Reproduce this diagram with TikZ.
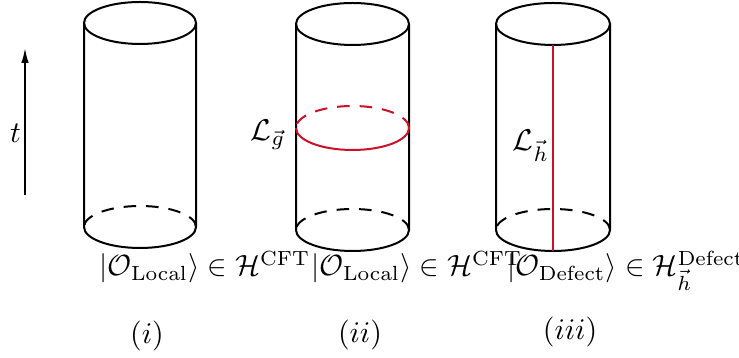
\documentclass[tikz,border=0pt]{standalone}
\usetikzlibrary{arrows.meta,calc}
\definecolor{defred}{RGB}{204,16,40}
\begin{document}
\begin{tikzpicture}[x=0.4pt,y=0.4pt,
  cyl/.style={line width=0.8pt},
  backdash/.style={cyl,dash pattern=on 5pt off 4pt},
  lbl/.style={anchor=base,inner sep=0pt,scale=1.2},
  sublbl/.style={lbl,scale=0.975}]
\useasboundingbox (0,0) rectangle (739,358);
% time arrow
\coordinate (tb) at (25,163);
\coordinate (tt) at (25,310);
\draw[line width=0.7pt,-{Latex[length=6pt,width=3pt]}] (tb) -- (tt);
\node[lbl] (t) at (15.5,215) {$t$};
% cylinder (i)
\coordinate (c1t) at (140,335);
\coordinate (c1b) at (140,131);
\draw[cyl] (c1t) ellipse [x radius=56, y radius=21];
\draw[cyl] ($(c1t)+(-56,0)$) -- ($(c1b)+(-56,0)$) arc[start angle=180,end angle=360,x radius=56,y radius=21] -- ($(c1t)+(56,0)$);
\draw[backdash] ($(c1b)+(56,0)$) arc[start angle=0,end angle=180,x radius=56,y radius=21];
% cylinder (ii)
\coordinate (c2t) at (352.5,334);
\coordinate (c2m) at (352.5,230);
\coordinate (c2b) at (352.5,128);
\draw[cyl] (c2t) ellipse [x radius=56.5, y radius=21];
\draw[cyl] ($(c2t)+(-56.5,0)$) -- ($(c2b)+(-56.5,0)$) arc[start angle=180,end angle=360,x radius=56.5,y radius=21] -- ($(c2t)+(56.5,0)$);
\draw[backdash] ($(c2b)+(56.5,0)$) arc[start angle=0,end angle=180,x radius=56.5,y radius=21];
\draw[cyl,defred] ($(c2m)+(-56.5,0)$) arc[start angle=180,end angle=360,x radius=56.5,y radius=22];
\draw[backdash,defred] ($(c2m)+(56.5,0)$) arc[start angle=0,end angle=180,x radius=56.5,y radius=22];
\node[lbl] (Lg) at (268,217) {$\mathcal{L}_{\vec g}$};
% cylinder (iii)
\coordinate (c3t) at (553,334);
\coordinate (c3b) at (553,128);
\draw[cyl] (c3t) ellipse [x radius=57, y radius=21];
\draw[cyl] ($(c3t)+(-57,0)$) -- ($(c3b)+(-57,0)$) arc[start angle=180,end angle=360,x radius=57,y radius=21] -- ($(c3t)+(57,0)$);
\draw[backdash] ($(c3b)+(57,0)$) arc[start angle=0,end angle=180,x radius=57,y radius=21];
\coordinate (d3t) at ($(c3t)+(0,-21)$);
\coordinate (d3b) at ($(c3b)+(0,-21)$);
\draw[cyl,defred] (d3t) -- (d3b);
\node[lbl] (Lh) at (531,207) {$\mathcal{L}_{\vec h}$};
% labels
\node[sublbl] (s1) at (205,82) {$|\mathcal{O}_{\mathrm{Local}}\rangle \in \mathcal{H}^{\mathrm{CFT}}$};
\node[sublbl] (s2) at (417,82) {$|\mathcal{O}_{\mathrm{Local}}\rangle \in \mathcal{H}^{\mathrm{CFT}}$};
\node[sublbl] (s3) at (626,82) {$|\mathcal{O}_{\mathrm{Defect}}\rangle \in \mathcal{H}^{\mathrm{Defect}}_{\vec h}$};
\node[lbl] (n1) at (147,14) {$(i)$};
\node[lbl] (n2) at (360,15) {$(ii)$};
\node[lbl] (n3) at (570,18) {$(iii)$};
\end{tikzpicture}
\end{document}
